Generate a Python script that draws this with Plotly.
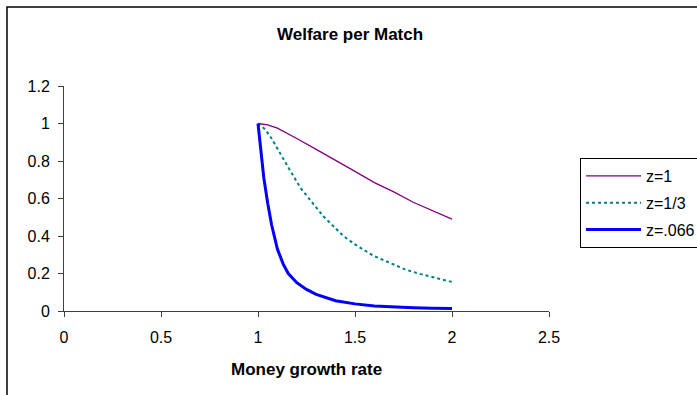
import plotly.graph_objects as go

# Data
x_z1 = [1.0, 1.05, 1.1, 1.15, 1.2, 1.3, 1.4, 1.5, 1.6, 1.7, 1.8, 1.9, 2.0]
y_z1 = [1.0, 0.993, 0.975, 0.948, 0.92, 0.862, 0.805, 0.745, 0.685, 0.635, 0.58, 0.535, 0.49]

x_z13 = [1.0, 1.036, 1.07, 1.105, 1.165, 1.22, 1.28, 1.337, 1.44, 1.5, 1.594, 1.7, 1.758, 1.826, 1.9, 2.0]
y_z13 = [1.0, 0.97, 0.92, 0.86, 0.75, 0.655, 0.575, 0.505, 0.40, 0.355, 0.295, 0.25, 0.222, 0.20, 0.18, 0.155]

x_z066 = [1.0, 1.01, 1.02, 1.03, 1.05, 1.07, 1.1, 1.13, 1.156, 1.2, 1.25, 1.3, 1.4, 1.5, 1.6, 1.7, 1.8, 1.9, 2.0]
y_z066 = [1.0, 0.9, 0.8, 0.71, 0.575, 0.46, 0.33, 0.25, 0.20, 0.151, 0.115, 0.089, 0.055, 0.038, 0.027, 0.021, 0.018, 0.015, 0.013]

names = ["z=1", "z=1/3", "z=.066"]
x_ticks = [0, 0.5, 1, 1.5, 2, 2.5]
y_ticks = [0, 0.2, 0.4, 0.6, 0.8, 1, 1.2]
y_tick_labels = ["0", "0.2", "0.4", "0.6", "0.8", "1", "1.2"]
x_tick_labels = ["0", "0.5", "1", "1.5", "2", "2.5"]

fig = go.Figure()
fig.add_trace(go.Scatter(x=x_z1, y=y_z1, mode="lines", name=names[0],
                         line=dict(color="#800080", width=1.3), legendgroup="a"))
fig.add_trace(go.Scatter(x=x_z13, y=y_z13, mode="lines", name=names[1],
                         line=dict(color="#008080", width=2, dash="dot"), legendgroup="b"))
fig.add_trace(go.Scatter(x=x_z066, y=y_z066, mode="lines", name=names[2],
                         line=dict(color="#0000FF", width=3), legendgroup="c"))

W, H = 697, 395
L, R, T, B = 64, 549, 86, 311

def px(xp):
    return (xp - L) / (R - L)

def py(yp):
    return (B - yp) / (B - T)

fig.update_layout(
    width=W, height=H,
    margin=dict(l=L, r=W - R, t=T, b=H - B, autoexpand=False),
    paper_bgcolor="white", plot_bgcolor="white",
    font=dict(family="Liberation Sans, Arial, sans-serif", size=16, color="black"),
    showlegend=True,
    legend=dict(x=px(580), y=py(158), xanchor="left", yanchor="top",
                bordercolor="black", borderwidth=1, bgcolor="white",
                font=dict(size=16), tracegroupgap=3, traceorder="grouped",
                itemwidth=55, entrywidth=140, entrywidthmode="pixels"),
    xaxis=dict(range=[0, 2.5], tickvals=x_ticks, ticktext=x_tick_labels,
               showgrid=False, zeroline=False, showline=True, linecolor="#404040",
               linewidth=1, ticks="outside", ticklen=5, tickcolor="#404040",
               tickfont=dict(size=16), ticklabelstandoff=7, fixedrange=True),
    yaxis=dict(range=[0, 1.2], tickvals=y_ticks, ticktext=y_tick_labels,
               showgrid=False, zeroline=False, showline=True, linecolor="#404040",
               linewidth=1, ticks="outside", ticklen=5, tickcolor="#404040",
               tickfont=dict(size=16), ticklabelstandoff=5, fixedrange=True),
    shapes=[dict(type="rect", xref="paper", yref="paper",
                 x0=px(7), y0=py(500), x1=px(800), y1=py(7),
                 line=dict(color="black", width=1.5), fillcolor="rgba(0,0,0,0)",
                 layer="below")],
    annotations=[
        dict(text="<b>Welfare per Match</b>", xref="paper", yref="paper",
             x=px(350), y=py(34), xanchor="center", yanchor="middle",
             showarrow=False, font=dict(size=17)),
        dict(text="<b>Money growth rate</b>", xref="paper", yref="paper",
             x=px(306), y=py(369), xanchor="center", yanchor="middle",
             showarrow=False, font=dict(size=17)),
    ],
)

fig.write_html("out.html", config={"displayModeBar": False},
               post_script="document.body.style.margin='0';document.body.style.overflow='hidden';")
